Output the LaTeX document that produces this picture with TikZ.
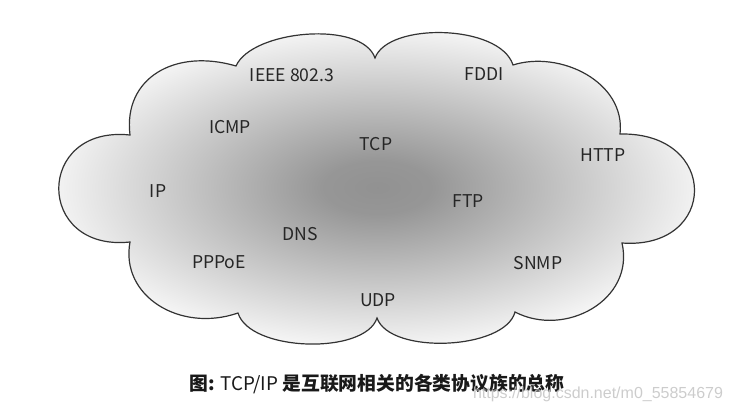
\documentclass[tikz,border=0pt]{standalone}
\usepackage{fontspec}
\setmainfont{Noto Sans CJK SC}
\newfontfamily\urlfont{Liberation Sans}
\usepackage{tikz}
\usetikzlibrary{calc}
\definecolor{protogray}{rgb}{0.15,0.15,0.15}
\pgfdeclareradialshading{cloudfill}{\pgfpoint{0bp}{0bp}}{color(0bp)=(black!43); color(4bp)=(black!41); color(26bp)=(white); color(50bp)=(white)}
\tikzset{
  proto/.style={font=\fontsize{8.8}{10}\selectfont, text=protogray, inner sep=1pt},
  cloudline/.style={draw=black!80, line width=0.6pt, shading=cloudfill}
}

\begin{document}
\begin{tikzpicture}[x=0.5pt,y=-0.5pt]
  \useasboundingbox (0,0) rectangle (731,413);
  % Cloud
  \shadedraw[cloudline] (130,135)
    .. controls (123,78) and (175,48) .. (236,66)
    .. controls (252,30) and (362,20) .. (375,58)
    .. controls (388,22) and (500,24) .. (513,65)
    .. controls (560,50) and (626,82) .. (620,134)
    .. controls (720,132) and (718,250) .. (622,243)
    .. controls (635,300) and (565,338) .. (515,312)
    .. controls (505,350) and (390,355) .. (377,318)
    .. controls (365,355) and (250,352) .. (238,313)
    .. controls (180,333) and (120,296) .. (130,242)
    .. controls (35,252) and (35,125) .. cycle;
  % Protocols
  \node[proto] (ieee) at (292,75) {IEEE 802.3};
  \node[proto] (fddi) at (484,74) {FDDI};
  \node[proto] (icmp) at (230,127) {ICMP};
  \node[proto] (tcp) at (376,144) {TCP};
  \node[proto] (http) at (603,155) {HTTP};
  \node[proto] (ip) at (158,191) {IP};
  \node[proto] (ftp) at (468,201) {FTP};
  \node[proto] (dns) at (300,234) {DNS};
  \node[proto] (pppoe) at (219,262) {PPPoE};
  \node[proto] (snmp) at (538,263) {SNMP};
  \node[proto] (udp) at (378,300) {UDP};
  % Caption
  \node[font=\fontsize{9.4}{12}\selectfont, text=black!90] (caption) at (377,384) {{\bfseries 图:} TCP/IP {\bfseries 是互联网相关的各类协议族的总称}};
  \node[font=\urlfont\fontsize{8}{10}\selectfont, text=black!22, opacity=0.9] (mark) at (598,394) {https://blog.csdn.net/m0\_55854679};
\end{tikzpicture}
\end{document}
